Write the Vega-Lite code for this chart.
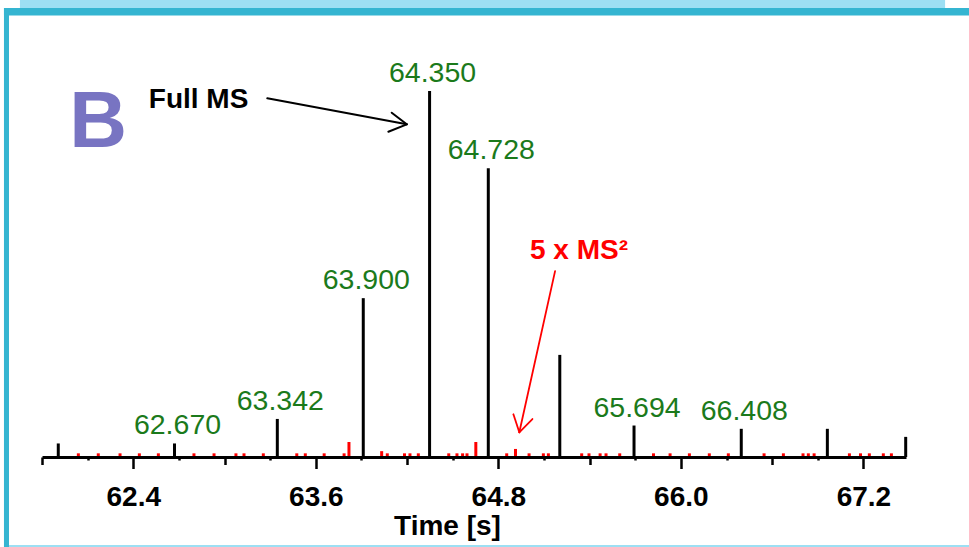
{
  "$schema": "https://vega.github.io/schema/vega-lite/v6.json",
  "width": 864,
  "height": 437,
  "autosize": {"type": "none"},
  "padding": {"left": 42, "top": 20, "right": 63, "bottom": 90},
  "background": "white",
  "config": {"view": {"stroke": null}, "font": "Liberation Sans"},
  "datasets": {
    "scans": [
      {"t": 61.907, "i": 3.7, "type": "MS"},
      {"t": 62.039, "i": 1.0, "type": "MS2"},
      {"t": 62.170, "i": 1.0, "type": "MS2"},
      {"t": 62.313, "i": 1.0, "type": "MS2"},
      {"t": 62.440, "i": 1.0, "type": "MS2"},
      {"t": 62.565, "i": 1.0, "type": "MS2"},
      {"t": 62.671, "i": 3.7, "type": "MS", "label": "62.670"},
      {"t": 62.799, "i": 1.0, "type": "MS2"},
      {"t": 62.931, "i": 1.0, "type": "MS2"},
      {"t": 63.075, "i": 1.0, "type": "MS2"},
      {"t": 63.128, "i": 1.0, "type": "MS2"},
      {"t": 63.255, "i": 1.0, "type": "MS2"},
      {"t": 63.347, "i": 10.4, "type": "MS", "label": "63.342"},
      {"t": 63.475, "i": 1.0, "type": "MS2"},
      {"t": 63.531, "i": 1.0, "type": "MS2"},
      {"t": 63.655, "i": 1.0, "type": "MS2"},
      {"t": 63.786, "i": 1.0, "type": "MS2"},
      {"t": 63.818, "i": 4.1, "type": "MS2"},
      {"t": 63.912, "i": 43.4, "type": "MS", "label": "63.900"},
      {"t": 64.033, "i": 1.6, "type": "MS2"},
      {"t": 64.070, "i": 1.0, "type": "MS2"},
      {"t": 64.183, "i": 1.0, "type": "MS2"},
      {"t": 64.219, "i": 1.0, "type": "MS2"},
      {"t": 64.274, "i": 1.0, "type": "MS2"},
      {"t": 64.348, "i": 100, "type": "MS", "label": "64.350"},
      {"t": 64.474, "i": 1.0, "type": "MS2"},
      {"t": 64.528, "i": 1.0, "type": "MS2"},
      {"t": 64.565, "i": 1.0, "type": "MS2"},
      {"t": 64.594, "i": 1.0, "type": "MS2"},
      {"t": 64.652, "i": 4.1, "type": "MS2"},
      {"t": 64.734, "i": 78.9, "type": "MS", "label": "64.728"},
      {"t": 64.855, "i": 1.0, "type": "MS2"},
      {"t": 64.913, "i": 2.2, "type": "MS2"},
      {"t": 65.002, "i": 1.0, "type": "MS2"},
      {"t": 65.096, "i": 1.0, "type": "MS2"},
      {"t": 65.129, "i": 1.0, "type": "MS2"},
      {"t": 65.204, "i": 27.9, "type": "MS"},
      {"t": 65.348, "i": 1.0, "type": "MS2"},
      {"t": 65.396, "i": 1.0, "type": "MS2"},
      {"t": 65.469, "i": 1.0, "type": "MS2"},
      {"t": 65.508, "i": 1.0, "type": "MS2"},
      {"t": 65.598, "i": 1.0, "type": "MS2"},
      {"t": 65.692, "i": 8.6, "type": "MS", "label": "65.694"},
      {"t": 65.820, "i": 1.0, "type": "MS2"},
      {"t": 65.929, "i": 1.0, "type": "MS2"},
      {"t": 66.056, "i": 1.0, "type": "MS2"},
      {"t": 66.187, "i": 1.0, "type": "MS2"},
      {"t": 66.312, "i": 1.0, "type": "MS2"},
      {"t": 66.397, "i": 7.7, "type": "MS", "label": "66.408"},
      {"t": 66.547, "i": 1.0, "type": "MS2"},
      {"t": 66.674, "i": 1.0, "type": "MS2"},
      {"t": 66.803, "i": 1.0, "type": "MS2"},
      {"t": 66.838, "i": 1.0, "type": "MS2"},
      {"t": 66.876, "i": 1.0, "type": "MS2"},
      {"t": 66.963, "i": 7.7, "type": "MS"},
      {"t": 67.108, "i": 1.0, "type": "MS2"},
      {"t": 67.181, "i": 1.0, "type": "MS2"},
      {"t": 67.239, "i": 1.0, "type": "MS2"},
      {"t": 67.331, "i": 1.0, "type": "MS2"},
      {"t": 67.384, "i": 1.0, "type": "MS2"},
      {"t": 67.478, "i": 5.5, "type": "MS"}
    ],
    "notes": [
      {"t": 61.979, "i": 84.8, "txt": "B", "kind": "panel"},
      {"t": 62.502, "i": 95.4, "txt": "Full MS", "kind": "full"},
      {"t": 65.008, "i": 54.0, "txt": "5 x MS²", "kind": "ms2"}
    ],
    "arrows": [
      {"t": 63.281, "i": 98.0, "t2": 64.198, "i2": 90.9, "kind": "full"},
      {"t": 64.099, "i": 94.07, "t2": 64.198, "i2": 90.9, "kind": "full"},
      {"t": 64.077, "i": 88.88, "t2": 64.198, "i2": 90.9, "kind": "full"},
      {"t": 65.173, "i": 50.8, "t2": 64.938, "i2": 6.75, "kind": "ms2"},
      {"t": 64.899, "i": 11.67, "t2": 64.938, "i2": 6.75, "kind": "ms2"},
      {"t": 65.024, "i": 10.38, "t2": 64.938, "i2": 6.75, "kind": "ms2"}
    ],
    "frame": [
      {"part": "light", "t": 61.655, "t2": 67.737, "i": 124.86, "i2": 122.68},
      {"part": "dark", "t": 61.550, "t2": 67.895, "i": 122.68, "i2": 120.63},
      {"part": "dark", "t": 61.550, "t2": 61.583, "i": 122.68, "i2": -24.6},
      {"part": "light", "t": 61.550, "t2": 67.895, "i": -24.04, "i2": -24.59}
    ]
  },
  "encoding": {
    "x": {
      "field": "t",
      "type": "quantitative",
      "scale": {"domain": [61.8, 67.48], "nice": false, "zero": false},
      "axis": {
        "values": [61.8, 62.1, 62.4, 62.7, 63.0, 63.3, 63.6, 63.9, 64.2, 64.5, 64.8, 65.1, 65.4, 65.7, 66.0, 66.3, 66.6, 66.9, 67.2],
        "labelExpr": "round(datum.value*10) % 12 == 0 ? format(datum.value, '.1f') : ''",
        "labelOverlap": false,
        "labelFlush": false,
        "labelFont": "Liberation Sans",
        "labelFontWeight": "bold",
        "labelFontSize": 28,
        "labelColor": "black",
        "labelPadding": 14.5,
        "domainColor": "black",
        "domainWidth": 3,
        "tickColor": "black",
        "tickWidth": 2.5,
        "tickSize": {"condition": [{"test": "round(datum.value*10) % 12 == 0", "value": 11.5}, {"test": "round(datum.value*10) % 6 == 0", "value": 7.5}], "value": 3},
        "grid": false,
        "zindex": 1,
        "title": "Time [s]",
        "titleFont": "Liberation Sans",
        "titleFontWeight": "bold",
        "titleFontSize": 28,
        "titleColor": "black",
        "titleX": 405,
        "titleY": 77,
        "titleAlign": "center",
        "titleBaseline": "alphabetic"
      }
    },
    "y": {
      "field": "i",
      "type": "quantitative",
      "scale": {"domain": [0, 119.4], "nice": false, "zero": true},
      "axis": null
    }
  },
  "layer": [
    {
      "data": {"name": "frame"},
      "transform": [{"filter": "datum.part == 'light'"}],
      "mark": {"type": "rect", "color": "#9DDFF3"},
      "encoding": {"x2": {"field": "t2"}, "y2": {"field": "i2"}}
    },
    {
      "data": {"name": "frame"},
      "transform": [{"filter": "datum.part == 'dark'"}],
      "mark": {"type": "rect", "color": "#35B5D1"},
      "encoding": {"x2": {"field": "t2"}, "y2": {"field": "i2"}}
    },
    {
      "data": {"name": "scans"},
      "mark": {"type": "rule", "strokeWidth": 3, "strokeCap": "butt"},
      "encoding": {
        "y2": {"datum": 0},
        "color": {"field": "type", "type": "nominal", "scale": {"domain": ["MS", "MS2"], "range": ["#000000", "#FF0000"]}, "legend": null}
      }
    },
    {
      "data": {"name": "scans"},
      "transform": [{"filter": "isValid(datum.label)"}],
      "mark": {"type": "text", "align": "center", "baseline": "alphabetic", "dy": -9, "dx": 3, "fontSize": 28.5, "font": "Liberation Sans", "color": "#1B7A1B"},
      "encoding": {"text": {"field": "label"}}
    },
    {
      "data": {"name": "arrows"},
      "transform": [{"filter": "datum.kind == 'full'"}],
      "mark": {"type": "rule", "strokeWidth": 2, "color": "black", "strokeCap": "round"},
      "encoding": {"x2": {"field": "t2"}, "y2": {"field": "i2"}}
    },
    {
      "data": {"name": "arrows"},
      "transform": [{"filter": "datum.kind == 'ms2'"}],
      "mark": {"type": "rule", "strokeWidth": 1.8, "color": "#FF0000", "strokeCap": "round"},
      "encoding": {"x2": {"field": "t2"}, "y2": {"field": "i2"}}
    },
    {
      "data": {"name": "notes"},
      "transform": [{"filter": "datum.kind == 'panel'"}],
      "mark": {"type": "text", "align": "left", "baseline": "alphabetic", "fontSize": 80, "fontWeight": "bold", "font": "Liberation Sans", "color": "#7874C2"},
      "encoding": {"text": {"field": "txt"}}
    },
    {
      "data": {"name": "notes"},
      "transform": [{"filter": "datum.kind == 'full'"}],
      "mark": {"type": "text", "align": "left", "baseline": "alphabetic", "fontSize": 28, "fontWeight": "bold", "font": "Liberation Sans", "color": "black"},
      "encoding": {"text": {"field": "txt"}}
    },
    {
      "data": {"name": "notes"},
      "transform": [{"filter": "datum.kind == 'ms2'"}],
      "mark": {"type": "text", "align": "left", "baseline": "alphabetic", "fontSize": 28, "fontWeight": "bold", "font": "Liberation Sans", "color": "#FF0000"},
      "encoding": {"text": {"field": "txt"}}
    }
  ]
}
